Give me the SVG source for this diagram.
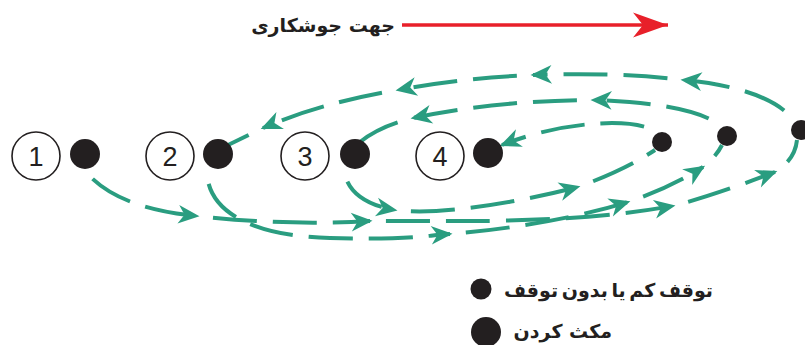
<svg xmlns="http://www.w3.org/2000/svg" width="805" height="345" viewBox="0 0 805 345">
  <style>
    .ring { fill: #fff; stroke: #231f20; stroke-width: 1.6; }
    .num { font-family: "Liberation Sans", Arial, sans-serif; font-size: 27px; fill: #231f20; text-anchor: middle; }
    .dot { fill: #231f20; }
    .path { fill: none; stroke: #2a9d80; stroke-width: 4; stroke-dasharray: 44 16; stroke-dashoffset: 44; }
    .arr { marker-end: url(#ah); }
    .lbl { font-family: "DejaVu Sans", "Noto Sans", sans-serif; font-weight: bold; font-size: 19px; fill: #231f20; }
  </style>
  <defs>
    <marker id="ah" markerUnits="userSpaceOnUse" markerWidth="30" markerHeight="30" viewBox="-20 -10 24 20" refX="-2" refY="0" orient="auto" overflow="visible">
      <path d="M0,0 L-17,-7.5 L-12,0 L-17,7.5 Z" fill="#2a9d80"/>
    </marker>
    <marker id="redah" markerUnits="userSpaceOnUse" markerWidth="40" markerHeight="30" viewBox="-30 -12 32 24" refX="0" refY="0" orient="auto" overflow="visible">
      <path d="M0,0 L-28,-10 L-20,0 L-28,10 Z" fill="#e8202a"/>
    </marker>
  </defs>

  <g id="direction">
    <line x1="402" y1="25" x2="668" y2="25" stroke="#e8202a" stroke-width="3.5" marker-end="url(#redah)"/>
    <text class="lbl" x="395" y="32" text-anchor="end" font-size="20">جهت جوشکاری</text>
  </g>

  <g id="connectors">
    <!-- loop 1: stop 1 -> far turn -> stop 2 -->
    <path class="path arr" d="M82,167 Q112,208 197,216"/>
    <path class="path arr" d="M197,216 Q285,226 370,221"/>
    <path class="path arr" d="M370,221 C440,220 560,226 673,206"/>
    <path class="path arr" d="M673,206 Q715,195 775,172"/>
    <path class="path" d="M775,172 Q795,160 797,140"/>
    <path class="path arr" d="M795,122 C780,100 740,85 683,80"/>
    <path class="path arr" d="M683,80 Q620,72 533,75"/>
    <path class="path arr" d="M533,75 Q460,78 398,90"/>
    <path class="path arr" d="M398,90 Q320,103 263,128"/>
    <path class="path" d="M263,128 L226,146"/>
    <!-- loop 2: stop 2 -> middle turn -> stop 3 -->
    <path class="path arr" d="M207,168 C205,210 250,236 330,238 S420,236 450,234"/>
    <path class="path arr" d="M450,234 C500,230 570,220 628,202"/>
    <path class="path arr" d="M628,202 Q670,188 703,167"/>
    <path class="path" d="M703,167 Q716,157 722,145"/>
    <path class="path arr" d="M722,127 C710,115 670,102 593,100"/>
    <path class="path arr" d="M593,100 Q500,100 413,118"/>
    <path class="path" d="M413,118 Q380,126 360,142"/>
    <!-- loop 3: stop 3 -> near turn -> stop 4 -->
    <path class="path arr" d="M344,166 C344,190 365,205 395,210"/>
    <path class="path arr" d="M395,210 C440,216 520,202 578,187"/>
    <path class="path" d="M578,187 Q625,170 655,150"/>
    <path class="path arr" d="M658,134 C645,118 570,118 502,145"/>
  </g>

  <g id="stop1"><circle class="ring" cx="36" cy="156" r="24"/><text class="num" x="36" y="166">1</text><circle class="dot" cx="85" cy="154" r="15"/></g>
  <g id="stop2"><circle class="ring" cx="170" cy="156" r="24"/><text class="num" x="170" y="166">2</text><circle class="dot" cx="218" cy="154" r="15"/></g>
  <g id="stop3"><circle class="ring" cx="305" cy="156" r="24"/><text class="num" x="305" y="166">3</text><circle class="dot" cx="355" cy="154" r="15"/></g>
  <g id="stop4"><circle class="ring" cx="440" cy="156" r="24"/><text class="num" x="440" y="166">4</text><circle class="dot" cx="488" cy="153" r="15"/></g>
  <g id="turn1"><circle class="dot" cx="662" cy="142" r="10"/></g>
  <g id="turn2"><circle class="dot" cx="727" cy="136" r="10"/></g>
  <g id="turn3"><circle class="dot" cx="801" cy="130" r="10"/></g>

  <g id="legend">
    <circle class="dot" cx="481" cy="289" r="10.5"/>
    <text class="lbl" x="713" y="297" text-anchor="end" font-size="18" word-spacing="-3">توقف کم یا بدون توقف</text>
    <circle class="dot" cx="486" cy="332" r="15"/>
    <text class="lbl" x="612" y="338" text-anchor="end">مکث کردن</text>
  </g>
</svg>
